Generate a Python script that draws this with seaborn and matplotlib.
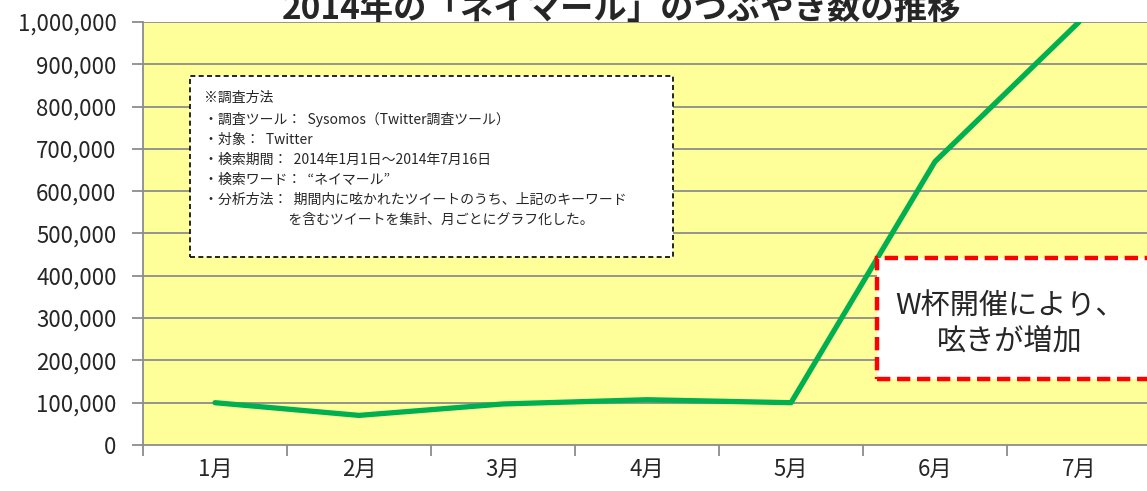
import matplotlib
matplotlib.use("Agg")
import matplotlib.pyplot as plt
import seaborn as sns
import pandas as pd
from matplotlib.ticker import FuncFormatter, FixedLocator
from matplotlib.patches import Rectangle

# --- data ---
months = ["1月", "2月", "3月", "4月", "5月", "6月", "7月"]
tweets = [100000, 70000, 97000, 107000, 100000, 670000, 1000000]
y_ticks = list(range(0, 1000001, 100000))

title = "2014年の「ネイマール」のつぶやき数の推移"
note_lines = [
    "※調査方法",
    "・調査ツール：  Sysomos（Twitter調査ツール）",
    "・対象：  Twitter",
    "・検索期間：  2014年1月1日～2014年7月16日",
    "・検索ワード：  “ネイマール”",
    "・分析方法：  期間内に呟かれたツイートのうち、上記のキーワード",
    "                           を含むツイートを集計、月ごとにグラフ化した。",
]
callout = "W杯開催により、\n呟きが増加"

sns.set_style("white")
plt.rcParams["font.family"] = ["Noto Sans CJK JP", "DejaVu Sans"]

df = pd.DataFrame({"month": months, "tweets": tweets})

fig = plt.figure(figsize=(11.47, 4.91), dpi=100)
ax = fig.add_axes([143 / 1147, 1 - 445 / 491, 1008 / 1147, 423 / 491])
ax.set_facecolor("#FFFF99")

# horizontal grid
for v in y_ticks[1:]:
    ax.axhline(v, color="#8c8c8c", linewidth=1.3, zorder=1)

sns.lineplot(data=df, x="month", y="tweets", color="#00B050", linewidth=3.8,
             ax=ax, zorder=3)

ax.set_xlim(-0.5, len(months) - 0.5)
ax.set_ylim(0, 1000000)
ax.set_xlabel("")
ax.set_ylabel("")

ax.yaxis.set_major_locator(FixedLocator(y_ticks))
ax.yaxis.set_major_formatter(FuncFormatter(lambda v, p: f"{int(v):,}"))
ax.tick_params(axis="y", labelsize=16, length=8, width=1.3, color="#8c8c8c",
               pad=11, left=True)

ax.xaxis.set_major_locator(FixedLocator(range(len(months))))
ax.set_xticklabels(months)
ax.xaxis.set_minor_locator(FixedLocator([i - 0.5 for i in range(len(months) + 1)]))
ax.tick_params(axis="x", which="major", labelsize=16, length=0, pad=9)
ax.tick_params(axis="x", which="minor", length=8, width=1.3, color="#8c8c8c",
               bottom=True)

for side in ["top", "right"]:
    ax.spines[side].set_visible(False)
for side in ["left", "bottom"]:
    ax.spines[side].set_color("#8c8c8c")
    ax.spines[side].set_linewidth(1.3)

# title (cut off at top in the reference)
fig.text(622 / 1147, 1 - 19 / 491, title, ha="center", va="baseline",
         fontsize=24, fontweight="bold")

# method note box
note = Rectangle((190 / 1147, 1 - 257 / 491), 483 / 1147, 181 / 491,
                 transform=fig.transFigure, facecolor="white", edgecolor="black",
                 linestyle=(0, (3, 2)), linewidth=1.2, zorder=4)
fig.add_artist(note)
fig.text(204 / 1147, 1 - 91 / 491, "\n".join(note_lines), ha="left", va="top",
         fontsize=10, linespacing=1.55, zorder=5)

# callout box
box = Rectangle((877 / 1147, 1 - 379 / 491), 290 / 1147, 121 / 491,
                transform=fig.transFigure, facecolor="white", edgecolor="#FF0000",
                linestyle=(0, (3, 1.5)), linewidth=3.2, zorder=4)
fig.add_artist(box)
fig.text(1010 / 1147, 1 - 324 / 491, callout, ha="center", va="center",
         fontsize=21, linespacing=1.25, zorder=5)

fig.savefig("out.png", dpi=100)
